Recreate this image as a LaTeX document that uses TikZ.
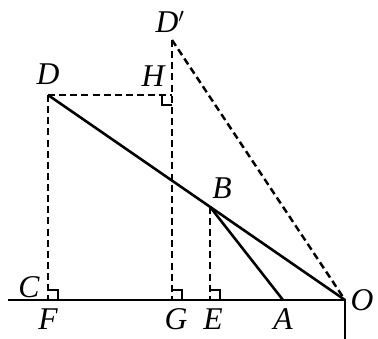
\documentclass[tikz,border=0pt]{standalone}
\usepackage{fontspec}
\setmainfont{Liberation Serif}
\usetikzlibrary{calc}

\begin{document}
\begin{tikzpicture}[
    x=0.3mm, y=-0.3mm,
    % Define line styles
    solid line/.style={line width=2.2pt},
    dash line/.style={line width=2.1pt, dash pattern=on 6pt off 3.5pt},
    % Style for the small right angle squares
    rightmark/.style={line width=1.6pt},
    ptlabel/.style={font=\fontsize{27}{30}\selectfont\itshape, inner sep=1pt}
]
\useasboundingbox (0,0) rectangle (378,339);

% Size of the right angle marks
\def\rm{10}

% Points of the figure
\coordinate (O) at (345,300);
\coordinate (D) at (48,95);
\coordinate (Dp) at (172,40);
\coordinate (H) at (172,95);
\coordinate (B) at (210,206.8);
\coordinate (F) at (48,300);
\coordinate (G) at (172,300);
\coordinate (E) at (210,300);
\coordinate (A) at (283,300);
\coordinate (L) at (8,300);
\coordinate (Od) at (345,339);

% Ground and the post at O
\draw[solid line] (L) -- (O) -- (Od);
% Solid lines D--O and B--A
\draw[solid line] (D) -- (O);
\draw[solid line] (B) -- (A);

% Dashed lines
\draw[dash line] (D) -- (F);
\draw[dash line] (D) -- (H);
\draw[dash line] (Dp) -- (G);
\draw[dash line] (Dp) -- (O);
\draw[dash line] (B) -- (E);

% Right angle marks
\draw[rightmark] ($(F)+(0,-\rm)$) -- ++(\rm,0) -- ++(0,\rm);
\draw[rightmark] ($(G)+(0,-\rm)$) -- ++(\rm,0) -- ++(0,\rm);
\draw[rightmark] ($(E)+(0,-\rm)$) -- ++(\rm,0) -- ++(0,\rm);
\draw[rightmark] ($(H)+(-\rm,0)$) -- ++(0,\rm) -- ++(\rm,0);

% Labels
\node[ptlabel] (lD) at (48,74) {D};
\node[ptlabel] (lDp) at (170,22) {D$'$};
\node[ptlabel] (lH) at (153,76) {H};
\node[ptlabel] (lB) at (222,188) {B};
\node[ptlabel] (lC) at (29,287) {C};
\node[ptlabel] (lF) at (48,319) {F};
\node[ptlabel] (lG) at (176,319) {G};
\node[ptlabel] (lE) at (213,319) {E};
\node[ptlabel] (lA) at (283,319) {A};
\node[ptlabel] (lO) at (362,300) {O};

\end{tikzpicture}
\end{document}
